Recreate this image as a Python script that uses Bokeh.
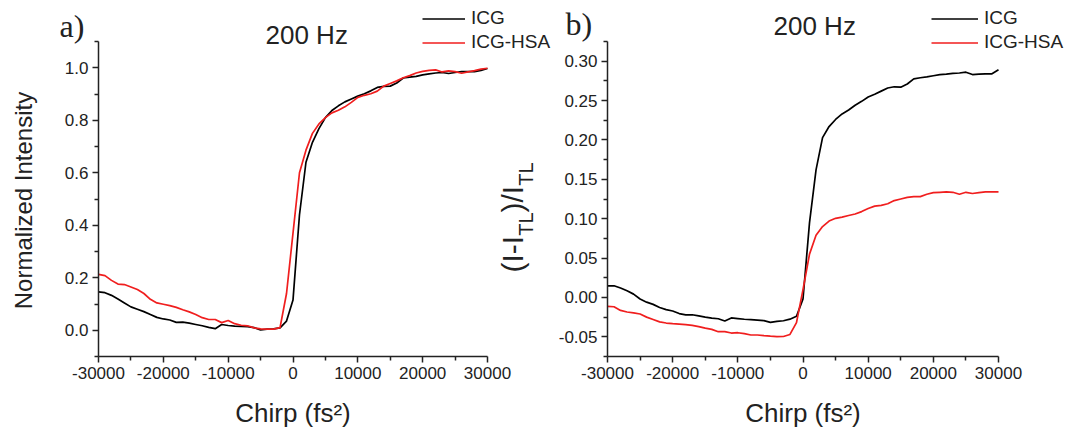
import math
from bokeh.plotting import figure
from bokeh.models import FixedTicker, PrintfTickFormatter, Label
from bokeh.layouts import row
from bokeh.embed import file_html
from bokeh.resources import INLINE

# ---------------- data ----------------
chirp = list(range(-30000, 30001, 1000))

icg_norm = [0.146, 0.143, 0.133, 0.119, 0.104, 0.089, 0.080, 0.071, 0.060, 0.049,
            0.043, 0.039, 0.030, 0.031, 0.027, 0.022, 0.017, 0.011, 0.006, 0.022,
            0.018, 0.016, 0.015, 0.014, 0.010, 0.001, 0.004, 0.005, 0.009, 0.035,
            0.115,
            0.440, 0.640, 0.716, 0.768, 0.810, 0.837, 0.855, 0.870, 0.881, 0.892,
            0.901, 0.912, 0.925, 0.929, 0.930, 0.942, 0.961, 0.964, 0.967, 0.973,
            0.977, 0.980, 0.982, 0.978, 0.982, 0.985, 0.985, 0.985, 0.990, 0.997]

icg_hsa_norm = [0.213, 0.208, 0.190, 0.176, 0.174, 0.165, 0.155, 0.140, 0.118, 0.104,
                0.099, 0.094, 0.087, 0.078, 0.070, 0.060, 0.048, 0.041, 0.041, 0.029,
                0.037, 0.025, 0.019, 0.017, 0.009, 0.005, 0.004, 0.004, 0.010, 0.140,
                0.370,
                0.600, 0.686, 0.750, 0.786, 0.810, 0.828, 0.838, 0.851, 0.868, 0.887,
                0.895, 0.901, 0.911, 0.930, 0.940, 0.950, 0.962, 0.970, 0.980, 0.986,
                0.990, 0.992, 0.984, 0.988, 0.985, 0.979, 0.984, 0.989, 0.995, 0.998]

icg_rel = [0.0148, 0.0148, 0.0120, 0.0084, 0.0042, -0.0020, -0.0060, -0.0088, -0.0127, -0.0155,
           -0.0172, -0.0205, -0.0222, -0.0220, -0.0235, -0.0250, -0.0262, -0.0271, -0.0300, -0.0260,
           -0.0268, -0.0277, -0.0282, -0.0287, -0.0295, -0.0316, -0.0305, -0.0296, -0.0276, -0.0240,
           -0.0020,
           0.095, 0.162, 0.203, 0.217, 0.226, 0.233, 0.238, 0.244, 0.249, 0.2545,
           0.258, 0.262, 0.266, 0.2675, 0.267, 0.271, 0.2775, 0.279, 0.280, 0.2815,
           0.283, 0.2835, 0.2845, 0.285, 0.286, 0.283, 0.2835, 0.284, 0.284, 0.289]

icg_hsa_rel = [-0.0114, -0.0118, -0.0165, -0.0185, -0.0195, -0.0210, -0.0250, -0.0280, -0.0310, -0.0325,
               -0.0333, -0.0338, -0.0345, -0.0355, -0.0370, -0.0390, -0.0405, -0.0435, -0.0435, -0.0452,
               -0.0448, -0.0460, -0.0477, -0.0477, -0.0485, -0.0492, -0.0498, -0.0496, -0.0470, -0.0320,
               0.0100,
               0.055, 0.079, 0.090, 0.097, 0.1005, 0.102, 0.104, 0.106, 0.109, 0.113,
               0.116, 0.117, 0.119, 0.123, 0.125, 0.127, 0.128, 0.128, 0.131, 0.133,
               0.1335, 0.134, 0.1335, 0.131, 0.1335, 0.132, 0.133, 0.134, 0.134, 0.134]

x_major = [-30000, -20000, -10000, 0, 10000, 20000, 30000]
x_minor = [-25000, -15000, -5000, 5000, 15000, 25000]
ya_major = [0.0, 0.2, 0.4, 0.6, 0.8, 1.0]
ya_minor = [-0.1, 0.1, 0.3, 0.5, 0.7, 0.9, 1.1]
yb_major = [-0.05, 0.0, 0.05, 0.10, 0.15, 0.20, 0.25, 0.30]
yb_minor = [-0.075, -0.025, 0.025, 0.075, 0.125, 0.175, 0.225, 0.275, 0.325]

series_names = ["ICG", "ICG-HSA"]
panel_title = "200 Hz"
x_label = "Chirp (fs\u00b2)"
ya_label = "Normalized Intensity"

XB = (-30000, 30000)       # x axis extent of both panels
YA = (-0.1, 1.1)           # y axis extent, panel a
YB = (-0.075, 0.325)       # y axis extent, panel b

# ---------------- style / geometry ----------------
FONT = "Liberation Sans"
AX = "#222222"
BLACK = "#000000"
RED = "#f01e1e"

H = 427
SPLIT = 552                 # page x where panel b's canvas starts
W2 = 1072 - SPLIT
TOP, BOT = 41, 356          # page y of axis top / x-axis line
A_AX = (98, 487)            # page x of -30000 / 30000, panel a
B_AX = (607, 998)           # page x of -30000 / 30000, panel b
BASE_SHIFT = 0.37           # svg text baseline correction (fraction of font size)


def view_range(lo, hi, p_lo, p_hi, f_lo, f_hi):
    per = (hi - lo) / (p_hi - p_lo)
    return (lo - (p_lo - f_lo) * per, hi + (f_hi - p_hi) * per)


xr1 = view_range(XB[0], XB[1], A_AX[0], A_AX[1], 0, SPLIT)
yr1 = view_range(YA[0], YA[1], -BOT, -TOP, -H, 0)
xr2 = view_range(XB[0], XB[1], B_AX[0], B_AX[1], SPLIT, 1072)
yr2 = view_range(YB[0], YB[1], -BOT, -TOP, -H, 0)


def style(p, ymaj, ymin, yfmt, yext):
    p.xaxis.ticker = FixedTicker(ticks=x_major, minor_ticks=x_minor)
    p.yaxis.ticker = FixedTicker(ticks=ymaj, minor_ticks=ymin)
    p.xaxis.formatter = PrintfTickFormatter(format="%d")
    p.yaxis.formatter = PrintfTickFormatter(format=yfmt)
    p.xaxis.bounds = XB
    p.yaxis.bounds = yext
    p.xaxis.fixed_location = yext[0]
    p.yaxis.fixed_location = XB[0]
    for ax in (p.xaxis[0], p.yaxis[0]):
        ax.axis_line_color = AX
        ax.axis_line_width = 1.5
        ax.major_tick_line_color = AX
        ax.major_tick_line_width = 1.5
        ax.major_tick_out = 6
        ax.major_tick_in = 0
        ax.minor_tick_line_color = AX
        ax.minor_tick_line_width = 1.5
        ax.minor_tick_out = 4
        ax.minor_tick_in = 0
        ax.major_label_text_font = FONT
        ax.major_label_text_font_size = "17px"
        ax.major_label_text_color = AX
        ax.major_label_standoff = 4
    p.xgrid.visible = False
    p.ygrid.visible = False
    p.outline_line_color = None


def legend_style(p, glyph_w, loc):
    lg = p.legend[0]
    lg.location = loc
    lg.glyph_width = glyph_w
    lg.glyph_height = 21
    lg.label_height = 21
    lg.label_standoff = 6
    lg.spacing = 2
    lg.padding = 0
    lg.margin = 0
    lg.border_line_color = None
    lg.background_fill_alpha = 0
    lg.label_text_font = FONT
    lg.label_text_font_size = "19px"
    lg.label_text_color = AX


def to_data(px, py, ax_px, yext):
    x = XB[0] + (px - ax_px[0]) / (ax_px[1] - ax_px[0]) * (XB[1] - XB[0])
    y = yext[1] - (py - TOP) / (BOT - TOP) * (yext[1] - yext[0])
    return x, y


def lab(p, px, py, ax_px, yext, text, fs, font=FONT, align="left", rotated=False):
    """Place text whose baseline starts (or centres) at page pixel (px, py)."""
    if rotated:
        px -= BASE_SHIFT * fs
    else:
        py -= BASE_SHIFT * fs
    x, y = to_data(px, py, ax_px, yext)
    p.add_layout(Label(x=x, y=y, text=text, text_font=font, text_font_size=f"{fs}px",
                       text_color=AX, text_align=align, text_baseline="alphabetic",
                       angle=(math.pi / 2 if rotated else 0.0)))


def make_fig(width, xr, yr):
    return figure(width=width, height=H, x_range=xr, y_range=yr,
                  output_backend="svg", toolbar_location=None,
                  min_border_left=0, min_border_right=0, min_border_top=0,
                  min_border_bottom=0)


# ---------------- panel a ----------------
p1 = make_fig(SPLIT, xr1, yr1)
p1.line(chirp, icg_norm, line_color=BLACK, line_width=1.7, legend_label=series_names[0])
p1.line(chirp, icg_hsa_norm, line_color=RED, line_width=1.7, legend_label=series_names[1])
style(p1, ya_major, ya_minor, "%.1f", YA)
legend_style(p1, 43, (422, H - 53))

lab(p1, 59, 37, A_AX, YA, "a)", 32, font="Liberation Serif")
lab(p1, 265, 44, A_AX, YA, panel_title, 26)
lab(p1, 32, 200, A_AX, YA, ya_label, 24, align="center", rotated=True)
lab(p1, 292.5, 422, A_AX, YA, x_label, 26, align="center")

# y label of panel b, (I-I_TL)/I_TL, written upwards with real subscripts
ARIAL = {"(": 0.333, ")": 0.333, "I": 0.278, "-": 0.333, "/": 0.278, "T": 0.611, "L": 0.556}
pieces = [("(I-I", 30, 523), ("TL", 20, 533), (")/I", 30, 523), ("TL", 20, 533)]
cur_y = 272.0
for txt, fs, bx in pieces:
    lab(p1, bx, cur_y, A_AX, YA, txt, fs, rotated=True)
    cur_y -= sum(ARIAL[c] for c in txt) * fs

# ---------------- panel b ----------------
p2 = make_fig(W2, xr2, yr2)
p2.line(chirp, icg_rel, line_color=BLACK, line_width=1.7, legend_label=series_names[0])
p2.line(chirp, icg_hsa_rel, line_color=RED, line_width=1.7, legend_label=series_names[1])
style(p2, yb_major, yb_minor, "%.2f", YB)
legend_style(p2, 47, (931 - SPLIT, H - 53))

lab(p2, 565, 35, B_AX, YB, "b)", 32, font="Liberation Serif")
lab(p2, 773, 35, B_AX, YB, panel_title, 26)
lab(p2, 802.5, 422, B_AX, YB, x_label, 26, align="center")

layout = row(p1, p2)
open("out.html", "w").write(file_html(layout, INLINE))
